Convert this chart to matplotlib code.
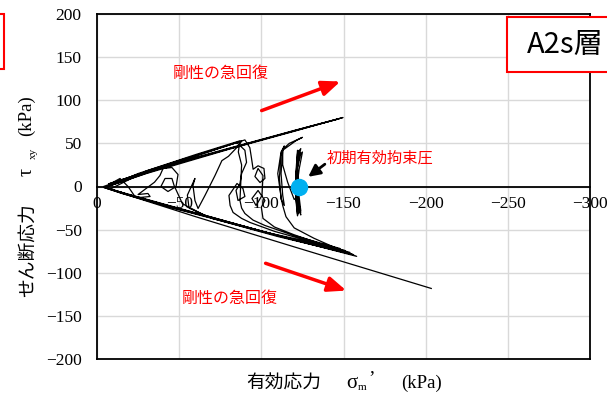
import matplotlib
matplotlib.use("Agg")
import matplotlib.pyplot as plt
from matplotlib.patches import Rectangle

# stress path (sigma_m', tau_xy) in kPa, in loading order
stage1 = [(-123, 0), (-122, 22), (-124, 38), (-122, 42), (-121, 15), (-123, -12), (-124, -28),
          (-122, -32), (-121, -10), (-123, 20), (-125, 40), (-123, 36), (-121, 5), (-123, -22),
          (-124, -33), (-122, -20), (-121, 12), (-123, 42), (-122, 30), (-121, 0), (-123, -26),
          (-122, -34), (-121, -15), (-122, 25), (-124, 44), (-122, 38), (-121, 8), (-122, -22),
          (-124, -30), (-122, -12)]
stage2 = [(-120, -15), (-116, 5), (-113, 25), (-113, 43), (-117, 50), (-125, 57), (-121, 53),
          (-113, 42), (-112, 15), (-113, -10), (-114, -22), (-112, -15), (-111, 10), (-112, 38),
          (-114, 47), (-112, 40), (-110, 15), (-112, -12), (-113, -22)]
stage3 = [(-115, -35), (-120, -48), (-132, -60), (-145, -71), (-158, -81), (-130, -67),
          (-90, -47), (-50, -26), (-20, -10), (-6, -2), (-4, 0)]
stage4 = [(-20, 11), (-50, 30), (-75, 45), (-90, 54), (-93, 45), (-94, 33), (-95, 20), (-98, 24),
          (-101.6, 20.9), (-102.2, 9.3), (-99.2, 4.6), (-96.1, 11.6), (-98, 20.9), (-101, 12.7),
          (-100.4, -10.4), (-96.8, -22), (-94.3, -13.9), (-98, -4.6), (-102.2, -16.2), (-100, -24),
          (-101, -37), (-108, -47), (-120, -56), (-137, -67), (-154, -76.5), (-125, -64),
          (-85, -44), (-45, -24), (-15, -7), (-5, -1)]
stage5 = [(-30, 15), (-80, 43), (-120, 64), (-149.7, 80), (-130, 70), (-100, 54), (-60, 33),
          (-25, 13), (-8, 3), (-14, 9.3), (-18.9, 0), (-23.1, -11.6), (-26.2, -12.7),
          (-32.3, -11.6), (-31, -8.1), (-25, -9.3), (-35, 5), (-38.3, 12.7), (-40.2, 20.9),
          (-45.6, 22), (-49.3, 13.9), (-48.1, 0), (-43.2, -5.8), (-38.9, 0), (-41.4, 9.3),
          (-45.6, 9.3), (-46.9, 1.2), (-52, -20), (-65, -33), (-110, -57), (-150, -76),
          (-120, -62), (-80, -41), (-40, -20), (-8, -3)]
stage6 = [(-30, 18), (-60, 36), (-88, 52.5), (-85, 45), (-80, 35), (-76, 30), (-71.8, 12.7),
          (-65.7, -10.4), (-61.5, -25.5), (-59.6, -16.2), (-58.4, 1.2), (-59.6, 9.3), (-55, -10),
          (-56, -25), (-70, -37), (-110, -58), (-156, -79), (-110, -57), (-60, -31), (-20, -10),
          (-5, -1)]
stage7 = [(-40, 22), (-90, 49), (-147.3, 78.5), (-120, 65), (-70, 39), (-30, 17), (-7, 3),
          (-30, 17), (-60, 35), (-85, 51), (-90, 42), (-91, 28), (-88, 15), (-87, 3.5),
          (-84.6, -4.6), (-85.8, -16.2), (-90, -11.6), (-88.8, -2.3), (-85.2, 3.5), (-80.3, -10.4),
          (-81, -22), (-82.8, -30.1), (-88, -37), (-93.1, -41.7), (-108, -52), (-123.5, -60.3),
          (-150.9, -74.2), (-110, -57), (-60, -31), (-20, -10), (-5, -1)]
stage8 = [(-25, 15), (-60, 37), (-87, 53), (-86, 40), (-88, 25), (-87, -16.2), (-88, -25),
          (-90, -31.3), (-95, -39), (-102.2, -45.2), (-120, -57), (-147.9, -71.9), (-100, -52),
          (-50, -27), (-15, -8), (-4, -1), (-60, -35), (-120, -70), (-203.4, -118.2)]

initial_sigma = -123
initial_tau = 0

path = stage1 + stage2 + stage3 + stage4 + stage5 + stage6 + stage7 + stage8
sig = [p[0] for p in path]
tau = [p[1] for p in path]

serif = ["Liberation Serif", "Noto Sans CJK JP"]
gothic = ["Noto Sans CJK JP", "DejaVu Sans"]

W, H = 607, 396
fig = plt.figure(figsize=(W / 100, H / 100), dpi=100)
ax = fig.add_axes([97 / W, 1 - 359 / H, 493 / W, 345 / H])

ax.plot(sig, tau, color="black", lw=0.9, zorder=3)
ax.plot(initial_sigma, initial_tau, "o", ms=11.5, color="#00b0f0", zorder=5)

ax.set_xlim(0, -300)
ax.set_ylim(-200, 200)
ax.set_xticks(range(0, -301, -50))
ax.set_yticks(range(-200, 201, 50))
ax.grid(True, color="#d9d9d9", lw=1)
ax.set_axisbelow(True)

for s in ax.spines.values():
    s.set_linewidth(1.3)
ax.spines["bottom"].set_position(("data", 0))
ax.plot([0, 1], [0, 0], transform=ax.transAxes, color="black", lw=1.3, clip_on=False)
ax.tick_params(length=0, labelsize=12.5)
ax.tick_params(axis="y", pad=11)
ax.tick_params(axis="x", pad=7)
for lab in ax.get_xticklabels() + ax.get_yticklabels():
    lab.set_fontfamily(serif)


def ftext(px, py, s, **kw):
    fig.text(px / W, 1 - py / H, s, ha="center", va="center", **kw)


# y axis title, built from pieces
ftext(27, 250, "せん断応力", rotation=90, fontsize=13.5, family=gothic)
ftext(27, 172, "τ", rotation=90, fontsize=14.5, family=serif)
ftext(33, 153, "xy", rotation=90, fontsize=8, family=serif)
ftext(26, 116, "(kPa)", rotation=90, fontsize=13.5, family=serif)
# x axis title
ftext(284, 383, "有効応力", fontsize=13.5, family=gothic)
ftext(352, 383, "σ", fontsize=15, family=serif)
ftext(362, 388, "m", fontsize=8, family=serif)
ftext(372, 379, "’", fontsize=14, family=serif)
ftext(422, 383, "(kPa)", fontsize=13.5, family=serif)

# annotations
ax.text(-75.5, 131, "剛性の急回復", color="red", fontsize=11.5, family=gothic,
        ha="center", va="center")
ax.text(-81, -130, "剛性の急回復", color="red", fontsize=11.5, family=gothic,
        ha="center", va="center")
ax.annotate("", xy=(-149.7, 122.9), xytext=(-98.6, 86.9),
            arrowprops=dict(arrowstyle="-|>,head_length=1.1,head_width=0.45", color="red", lw=2.5))
ax.annotate("", xy=(-153.3, -121.7), xytext=(-101, -88),
            arrowprops=dict(arrowstyle="-|>,head_length=1.1,head_width=0.45", color="red", lw=2.5))
ax.text(-140, 33.6, "初期有効拘束圧", color="red", fontsize=11, family=gothic,
        ha="left", va="center")
ax.annotate("", xy=(-127.2, 9.3), xytext=(-140, 27.8),
            arrowprops=dict(arrowstyle="-|>,head_length=0.7,head_width=0.35", color="black", lw=2),
            zorder=6)

# label boxes
fig.patches.append(Rectangle((507 / W, 1 - 72 / H), 0.3, 55 / H, transform=fig.transFigure,
                             facecolor="white", edgecolor="red", lw=1.5, zorder=10))
fig.text(527 / W, 1 - 45 / H, "A2s層", fontsize=21, family=gothic, ha="left", va="center",
         zorder=11)
fig.patches.append(Rectangle((-0.2, 1 - 69 / H), 0.2 + 4 / W, 55 / H,
                             transform=fig.transFigure, facecolor="white", edgecolor="red",
                             lw=1.5, zorder=10))

fig.savefig("out.png", dpi=100)
